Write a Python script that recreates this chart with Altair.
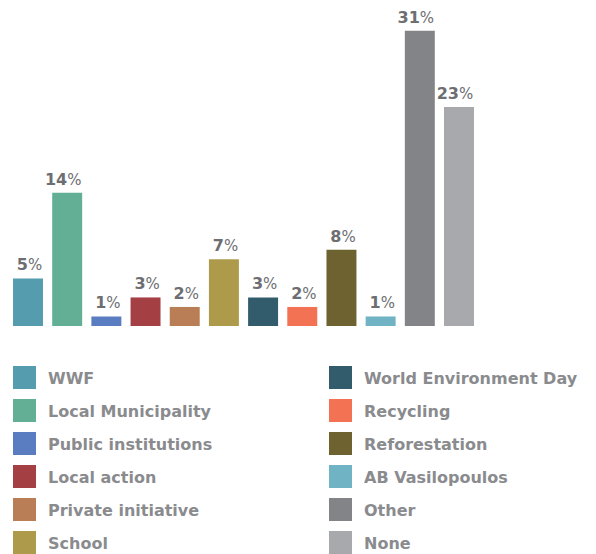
import altair as alt
import pandas as pd

categories = ["WWF", "Local Municipality", "Public institutions", "Local action",
              "Private initiative", "School", "World Environment Day", "Recycling",
              "Reforestation", "AB Vasilopoulos", "Other", "None"]
values = [5, 14, 1, 3, 2, 7, 3, 2, 8, 1, 31, 23]
colors = ["#559caf", "#62af96", "#5a7cc0", "#a44044", "#b97e55", "#ae9a4b",
          "#325c6b", "#f37254", "#6d6230", "#6fb3c4", "#838488", "#a8a9ad"]

FONT = "DejaVu Sans"
LABEL_COLOR = "#6d6e71"
LEGEND_TEXT = "#8a8b8e"

df = pd.DataFrame({"category": categories, "value": values})
df["num"] = df["value"].astype(str)

ldf = pd.DataFrame({"category": categories,
                    "col": [i // 6 for i in range(len(categories))],
                    "row": [i % 6 for i in range(len(categories))]})

color = alt.Color("category:N", scale=alt.Scale(domain=categories, range=colors), legend=None)
x = alt.X("category:N", sort=categories, axis=None,
          scale=alt.Scale(paddingInner=0.235, paddingOuter=0.128))
y = alt.Y("value:Q", axis=None, scale=alt.Scale(domain=[0, 33.4], nice=False, zero=True))

base = alt.Chart(df)
bars = base.mark_bar().encode(x=x, y=y, color=color)
nums = base.mark_text(align="right", baseline="alphabetic", dy=-8, dx=0, font=FONT,
                      fontSize=16, fontWeight="bold", color=LABEL_COLOR).encode(
    x=x, y=y, text="num:N")
pct = base.mark_text(align="left", baseline="alphabetic", dy=-8, dx=0, font=FONT,
                     fontSize=15, fontWeight="normal", color=LABEL_COLOR).encode(
    x=x, y=y, text=alt.value("%"))

bar_chart = alt.layer(bars, nums, pct).properties(width=471, height=318)

lx = alt.X("col:Q", axis=None, scale=alt.Scale(domain=[0, 1], range=[16.5, 332.5]))
ly = alt.Y("row:Q", axis=None, scale=alt.Scale(domain=[0, 5], range=[21.5, 186.5]))
lbase = alt.Chart(ldf)
squares = lbase.mark_square(size=529, opacity=1).encode(x=lx, y=ly, color=color)
ltext = lbase.mark_text(align="left", baseline="middle", dx=23.5, dy=1, font=FONT,
                        fontSize=16, fontWeight="bold", color=LEGEND_TEXT).encode(
    x=lx, y=ly, text="category:N")
legend_chart = alt.layer(squares, ltext).properties(width=471, height=200)

chart = alt.vconcat(bar_chart, legend_chart, spacing=30).properties(
    padding=0, background="white"
).configure_view(stroke=None)

chart.save("out.html", embed_options={"renderer": "svg", "actions": False})
